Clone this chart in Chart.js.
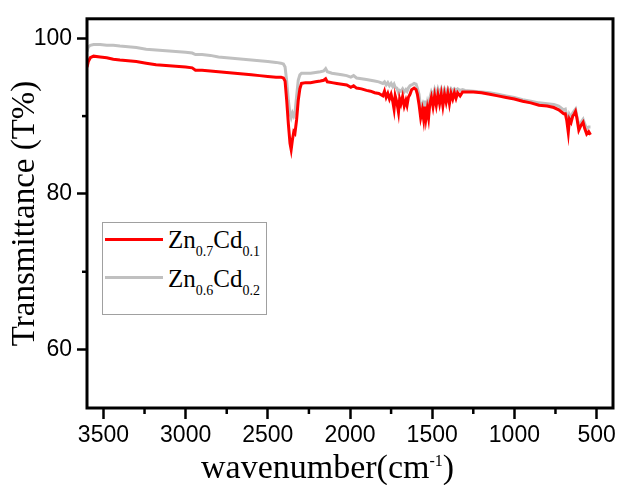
<!DOCTYPE html>
<html>
<head>
<meta charset="utf-8">
<script src="https://cdn.jsdelivr.net/npm/chart.js@4.4.1/dist/chart.umd.min.js"></script>
<style>
  html, body { margin: 0; padding: 0; background: #fff; }
  #wrap { position: relative; width: 621px; height: 485px; }
  #chart { position: absolute; left: 0; top: 0; }
  .legend {
    position: absolute; left: 102px; top: 222px; width: 165px; height: 93px;
    box-sizing: border-box; border: 1px solid #a0a0a0; background: #fff;
    font-family: 'Liberation Serif', 'Times New Roman', serif; color: #000;
  }
  .legend .swatch { position: absolute; left: 2px; width: 58px; height: 3px; }
  .legend .label { position: absolute; left: 65px; font-size: 25px; line-height: 25px; white-space: nowrap; }
  .legend sub { font-size: 14px; line-height: 0; vertical-align: -8px; }
  .xtitle {
    position: absolute; left: 201px; top: 450px; color: #000;
    font-family: 'Liberation Serif', 'Times New Roman', serif; font-size: 34px; line-height: 34px; white-space: nowrap;
  }
  .xtitle sup { font-size: 16px; line-height: 0; vertical-align: 12px; }
</style>
</head>
<body>
<div id="wrap">
  <canvas id="chart" width="621" height="485"></canvas>
  <div class="legend" id="legend"></div>
  <div class="xtitle">wavenumber(cm<sup>-1</sup>)</div>
</div>
<script>
// wavenumber (cm-1) and transmittance (%)
const wavenumbers = [
  3600, 3592, 3580, 3560, 3520, 3480, 3440, 3400, 3350, 3300, 3240, 3180, 3120, 3060, 3000,
  2960, 2940, 2900, 2850, 2800, 2750, 2700, 2650, 2600, 2550, 2500, 2450, 2420, 2405, 2395,
  2385, 2375, 2365, 2358, 2350, 2342, 2335, 2325, 2315, 2305, 2295, 2270, 2240, 2210, 2180,
  2160, 2148, 2138, 2110, 2080, 2050, 2020, 1995, 1978, 1960, 1930, 1900, 1875, 1850, 1825,
  1800, 1790, 1780, 1770, 1760, 1750, 1740, 1732, 1725, 1715, 1705, 1698, 1690, 1680, 1670,
  1660, 1653, 1645, 1635, 1625, 1610, 1598, 1590, 1580, 1570, 1560, 1552, 1545, 1538, 1530,
  1522, 1515, 1505, 1495, 1485, 1475, 1465, 1455, 1445, 1435, 1425, 1415, 1405, 1395, 1385,
  1375, 1365, 1355, 1345, 1330, 1315, 1300, 1250, 1200, 1150, 1100, 1050, 1000, 950, 900,
  850, 800, 760, 730, 700, 690, 681, 672, 665, 655, 645, 635, 628, 620, 608,
  595, 582, 572, 560, 548, 537
]

const zn07cd01 = [
  96.3, 97.0, 97.5, 97.7, 97.6, 97.5, 97.3, 97.2, 97.1, 97.0, 96.8, 96.6, 96.5, 96.4, 96.3,
  96.2, 95.9, 95.9, 95.8, 95.7, 95.6, 95.5, 95.4, 95.3, 95.2, 95.1, 95.0, 95.0, 94.9, 94.5,
  92.0, 89.0, 86.5, 85.7, 87.0, 88.0, 87.8, 89.5, 92.0, 93.5, 94.2, 94.3, 94.3, 94.4, 94.5,
  94.6, 94.8, 94.4, 94.3, 94.2, 94.1, 94.0, 93.7, 93.9, 93.6, 93.5, 93.3, 93.2, 93.0, 92.9,
  92.6, 93.2, 92.4, 92.9, 92.2, 92.8, 91.9, 90.9, 92.6, 91.8, 90.5, 92.2, 91.6, 92.5, 91.3,
  92.0, 91.4, 92.4, 92.8, 93.4, 93.6, 93.4, 92.8, 91.5, 89.8, 90.8, 89.6, 91.2, 89.7, 90.9,
  89.8, 91.5, 92.4, 91.2, 92.6, 91.4, 92.7, 91.6, 92.8, 91.3, 92.8, 91.8, 92.9, 91.6, 92.9,
  92.2, 93.0, 92.3, 93.0, 92.6, 93.1, 93.1, 93.1, 93.0, 92.8, 92.6, 92.4, 92.2, 91.9, 91.7,
  91.4, 91.3, 91.1, 90.8, 90.3, 90.3, 89.4, 87.9, 89.6, 89.2, 90.0, 90.3, 90.6, 89.8, 88.2,
  88.8, 89.2, 88.4, 87.7, 88.0, 87.6
]

const zn06cd02 = [
  98.3, 98.9, 99.1, 99.2, 99.2, 99.1, 99.1, 99.0, 98.9, 98.8, 98.6, 98.5, 98.4, 98.3, 98.2,
  98.1, 97.9, 97.9, 97.8, 97.6, 97.5, 97.4, 97.3, 97.2, 97.1, 97.0, 96.9, 96.8, 96.7, 96.3,
  94.5, 92.0, 90.3, 89.8, 90.4, 90.0, 90.4, 92.5, 94.6, 95.3, 95.5, 95.5, 95.5, 95.6, 95.7,
  95.8, 96.1, 95.7, 95.5, 95.4, 95.3, 95.2, 95.0, 95.2, 94.9, 94.8, 94.7, 94.6, 94.5, 94.4,
  94.2, 94.4, 94.0, 94.3, 93.9, 94.2, 93.8, 94.1, 93.7, 93.6, 93.0, 93.3, 93.2, 93.5, 93.1,
  93.4, 93.2, 93.6, 93.9, 94.0, 94.2, 94.1, 93.6, 92.8, 91.0, 91.5, 90.2, 92.0, 90.5, 91.6,
  90.8, 92.3, 93.1, 92.6, 93.4, 92.7, 93.5, 92.9, 93.5, 92.8, 93.5, 93.0, 93.5, 93.0, 93.5,
  93.2, 93.5, 93.3, 93.5, 93.3, 93.4, 93.3, 93.2, 93.1, 93.0, 92.8, 92.6, 92.4, 92.1, 91.9,
  91.7, 91.6, 91.5, 91.3, 90.8, 90.9, 90.0, 89.2, 90.2, 89.8, 90.4, 90.7, 90.9, 90.0, 88.8,
  89.2, 89.6, 89.0, 88.4, 88.6, 88.6
]

const seriesNames = ['Zn0.7Cd0.1', 'Zn0.6Cd0.2']
const seriesLabels = ['Zn<sub>0.7</sub>Cd<sub>0.1</sub>', 'Zn<sub>0.6</sub>Cd<sub>0.2</sub>']
const seriesColors = ['#ff0000', '#c0c0c0']

const xTicks = [3500, 3000, 2500, 2000, 1500, 1000, 500]
const yTicks = [60, 80, 100]
const xMinorTicks = [3250, 2750, 2250, 1750, 1250, 750]
const yMinorTicks = [90, 70]

// frame round the plot + the unlabelled minor ticks
const framePlugin = {
  id: 'frame',
  afterDraw(chart) {
    const { ctx, chartArea: a, scales } = chart
    ctx.save()
    ctx.strokeStyle = '#000'
    ctx.lineWidth = 2.5
    xMinorTicks.forEach(v => {
      const px = scales.x.getPixelForValue(v)
      ctx.beginPath(); ctx.moveTo(px, a.bottom); ctx.lineTo(px, a.bottom + 6); ctx.stroke()
    })
    yMinorTicks.forEach(v => {
      const py = scales.y.getPixelForValue(v)
      ctx.beginPath(); ctx.moveTo(a.left, py); ctx.lineTo(a.left - 5, py); ctx.stroke()
    })
    ctx.lineWidth = 3
    ctx.strokeRect(a.left, a.top, a.right - a.left, a.bottom - a.top)
    ctx.restore()
  }
}

const series = [zn07cd01, zn06cd02]
const tickFont = { family: "'Liberation Sans', Arial, sans-serif", size: 23 }

new Chart(document.getElementById('chart').getContext('2d'), {
  type: 'line',
  data: {
    datasets: series.map((vals, i) => ({
      label: seriesNames[i],
      data: wavenumbers.map((w, j) => ({ x: w, y: vals[j] })),
      borderColor: seriesColors[i],
      backgroundColor: seriesColors[i],
      borderWidth: 3,
      pointRadius: 0,
      tension: 0,
      fill: false,
    }))
  },
  options: {
    responsive: false,
    devicePixelRatio: 1,
    animation: false,
    layout: { padding: { top: 16, right: 8, left: 0, bottom: 0 } },
    plugins: { legend: { display: false }, tooltip: { enabled: false } },
    scales: {
      x: {
        type: 'linear',
        reverse: true,
        min: 400,
        max: 3600,
        afterFit: s => { s.height = 77 },
        afterBuildTicks: s => { s.ticks = xTicks.map(v => ({ value: v })) },
        border: { display: false },
        grid: { drawOnChartArea: false, drawTicks: true, tickLength: 11, tickWidth: 2.5, tickColor: '#000' },
        ticks: {
          autoSkip: false,
          maxRotation: 0,
          padding: 3,
          color: '#000',
          font: tickFont,
          callback: v => String(v)
        }
      },
      y: {
        min: 52.5,
        max: 102.5,
        afterFit: s => { s.width = 87 },
        afterBuildTicks: s => { s.ticks = yTicks.map(v => ({ value: v })) },
        border: { display: false },
        grid: { drawOnChartArea: false, drawTicks: true, tickLength: 10, tickWidth: 2.5, tickColor: '#000' },
        ticks: {
          padding: 5,
          color: '#000',
          font: tickFont,
          callback: v => String(v)
        },
        title: {
          display: true,
          text: 'Transmittance (T%)',
          color: '#000',
          font: { family: "'Liberation Serif', 'Times New Roman', serif", size: 33 },
          padding: { top: 6, bottom: 0 }
        }
      }
    }
  },
  plugins: [framePlugin]
})

// legend with subscripts, built from the series lists
const legendRows = [{ swatchTop: 15, labelTop: 4 }, { swatchTop: 53, labelTop: 43 }]
document.getElementById('legend').innerHTML = seriesLabels.map((lab, i) => `
  <span class="swatch" style="top:${legendRows[i].swatchTop}px;background:${seriesColors[i]}"></span>
  <span class="label" style="top:${legendRows[i].labelTop}px">${lab}</span>
`).join('')
</script>
</body>
</html>
